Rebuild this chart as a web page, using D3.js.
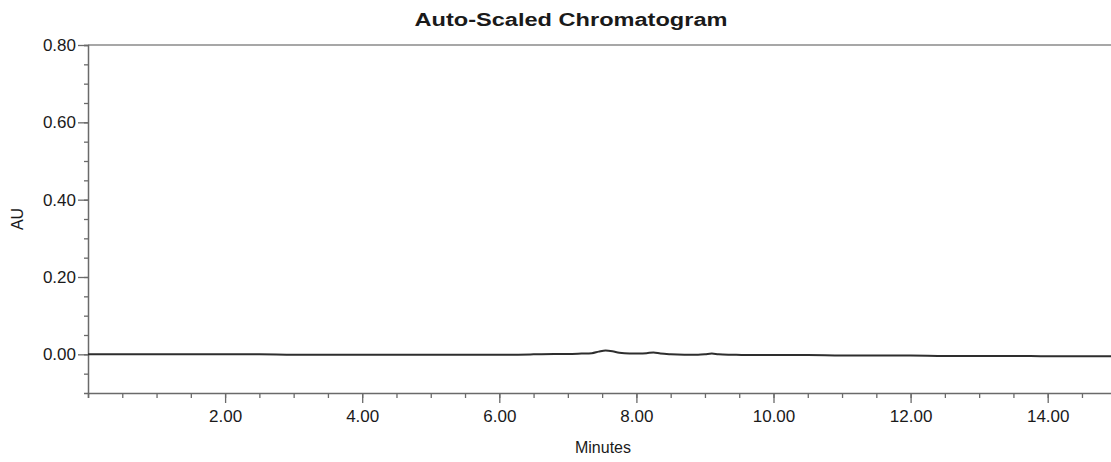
<!DOCTYPE html>
<html>
<head>
<meta charset="utf-8">
<script src="https://cdn.jsdelivr.net/npm/d3@7"></script>
<style>
  body { margin: 0; background: #fff; }
  text { font-family: "Liberation Sans", Arial, sans-serif; fill: #1a1a1a; }
</style>
</head>
<body>
<div id="container"></div>
<script>
// chromatogram trace (minutes, AU)
const times = [0, 0.5, 1, 1.5, 2, 2.5, 3, 3.5, 4, 4.5, 5, 5.5, 6, 6.5, 6.8, 7.0, 7.2, 7.35,
  7.45, 7.55, 7.65, 7.75, 7.9, 8.05, 8.15, 8.25, 8.35, 8.5, 8.7, 8.9, 9.0, 9.1, 9.2, 9.4,
  9.7, 10, 10.5, 11, 11.5, 12, 12.5, 13, 13.5, 14, 14.5, 15];
const absorbance = [0.000, 0.000, 0.000, 0.000, 0.000, 0.000, -0.001, -0.001, -0.001, -0.001,
  -0.001, -0.001, -0.001, 0.000, 0.001, 0.001, 0.002, 0.003,
  0.007, 0.010, 0.008, 0.004, 0.002, 0.002, 0.003, 0.005, 0.002, 0.000, -0.001, -0.001, 0.000, 0.002, 0.000, -0.001,
  -0.002, -0.002, -0.002, -0.003, -0.003, -0.003, -0.004, -0.004, -0.004, -0.005, -0.005, -0.005];

const yTickValues = [0.00, 0.20, 0.40, 0.60, 0.80];
const xTickValues = [2, 4, 6, 8, 10, 12, 14];
const titleText = "Auto-Scaled Chromatogram";
const xLabel = "Minutes";
const yLabel = "AU";

const width = 1111;
const height = 462;
const marginTop = 45;
const marginLeft = 88;
const marginBottom = 69;

const x = d3.scaleLinear()
    .domain([0, 15])
    .range([marginLeft, marginLeft + 15 * 68.55]);

const y = d3.scaleLinear()
    .domain([-0.10, 0.80])
    .range([height - marginBottom, marginTop]);

const svg = d3.create("svg")
    .attr("width", width)
    .attr("height", height)
    .attr("viewBox", [0, 0, width, height]);

const axisColor = "#6a6a6a";

// top border
svg.append("line")
    .attr("x1", marginLeft).attr("x2", width)
    .attr("y1", y(0.80)).attr("y2", y(0.80))
    .attr("stroke", "#8a8a8a").attr("stroke-width", 1.5);

// x axis: minor ticks every 0.5 min, labels every 2
svg.append("g")
    .attr("transform", `translate(0,${y(-0.10)})`)
    .call(d3.axisBottom(x).tickValues(d3.range(0, 15.01, 0.5)).tickSize(5).tickFormat(""))
    .call(g => g.select(".domain").attr("stroke", axisColor).attr("stroke-width", 1.5))
    .call(g => g.selectAll(".tick line").attr("stroke", axisColor).attr("stroke-width", 1.3));

svg.append("g")
    .attr("transform", `translate(0,${y(-0.10)})`)
    .call(d3.axisBottom(x).tickValues(xTickValues).tickSize(10).tickPadding(7).tickFormat(d3.format(".2f")))
    .call(g => g.select(".domain").remove())
    .call(g => g.selectAll(".tick line").attr("stroke", axisColor).attr("stroke-width", 1.3))
    .call(g => g.selectAll(".tick text").attr("font-size", 17).attr("fill", "#1a1a1a"));

// y axis: minor ticks every 0.05, labels every 0.20
svg.append("g")
    .attr("transform", `translate(${marginLeft},0)`)
    .call(d3.axisLeft(y).tickValues(d3.range(-0.05, 0.801, 0.05)).tickSize(4).tickFormat(""))
    .call(g => g.select(".domain").attr("stroke", axisColor).attr("stroke-width", 1.5))
    .call(g => g.selectAll(".tick line").attr("stroke", axisColor).attr("stroke-width", 1.3));

svg.append("g")
    .attr("transform", `translate(${marginLeft},0)`)
    .call(d3.axisLeft(y).tickValues(yTickValues).tickSize(10).tickPadding(2).tickFormat(d3.format(".2f")))
    .call(g => g.select(".domain").remove())
    .call(g => g.selectAll(".tick line").attr("stroke", axisColor).attr("stroke-width", 1.3))
    .call(g => g.selectAll(".tick text").attr("font-size", 17).attr("fill", "#1a1a1a"));

// the trace
const line = d3.line()
    .x((d, i) => x(times[i]))
    .y(d => y(d))
    .curve(d3.curveMonotoneX);

svg.append("path")
    .datum(absorbance)
    .attr("fill", "none")
    .attr("stroke", "#2e2e2e")
    .attr("stroke-width", 2)
    .attr("d", line);

// title and labels
svg.append("text")
    .attr("x", 571).attr("y", 26)
    .attr("text-anchor", "middle")
    .attr("font-size", 18).attr("font-weight", "bold")
    .attr("textLength", 313).attr("lengthAdjust", "spacingAndGlyphs")
    .text(titleText);

svg.append("text")
    .attr("x", 603).attr("y", 453)
    .attr("text-anchor", "middle")
    .attr("font-size", 16)
    .text(xLabel);

svg.append("text")
    .attr("transform", "translate(23,219) rotate(-90)")
    .attr("text-anchor", "middle")
    .attr("font-size", 16)
    .text(yLabel);

container.append(svg.node());
</script>
</body>
</html>
